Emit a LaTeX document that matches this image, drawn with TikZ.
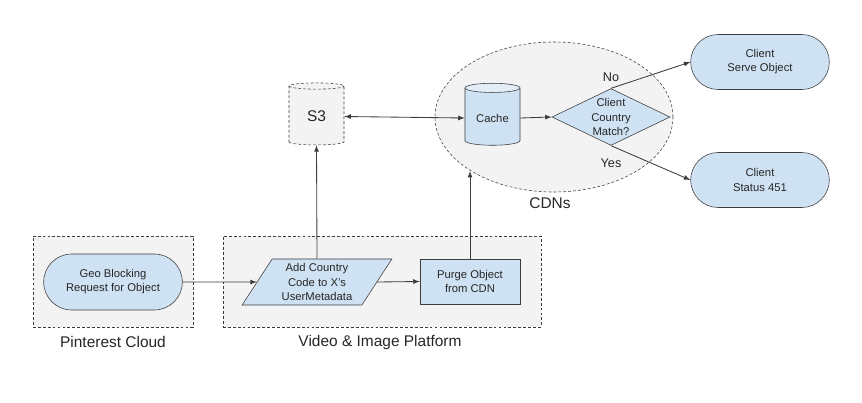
\documentclass[tikz,border=0pt]{standalone}
\usepackage{fontspec}
\setmainfont{Liberation Sans}
\usetikzlibrary{shapes.geometric,shapes.misc,arrows,calc}
\definecolor{BoxBlue}{HTML}{CFE2F3}
\definecolor{CapBlue}{HTML}{E2EDF8}
\definecolor{ZoneGray}{HTML}{F3F3F3}
\definecolor{LineGray}{HTML}{3C3C3C}
\tikzset{
    nodefont/.style = {font=\fontsize{8}{10}\selectfont, text=black!85},
    block/.style = {draw=LineGray, fill=BoxBlue, rectangle, nodefont, align=center,
        minimum width=2.5cm, minimum height=1.125cm},
    terminal/.style = {draw=LineGray, fill=BoxBlue, rounded rectangle, nodefont, align=center,
        minimum width=3.6cm, minimum height=1.4cm},
    data/.style = {draw=LineGray, fill=BoxBlue, trapezium, trapezium left angle=57,
        trapezium right angle=123, trapezium stretches=true, nodefont, align=center,
        minimum width=3.75cm, minimum height=1.15cm, inner sep=0pt},
    decision/.style = {draw=LineGray, fill=BoxBlue, diamond, aspect=1.93, nodefont,
        align=center, inner sep=0pt, minimum width=2.95cm},
    store/.style = {cylinder, shape border rotate=90, aspect=0.22, nodefont,
        minimum width=1.375cm, minimum height=1.55cm},
    zone/.style = {draw=LineGray, fill=ZoneGray, dash pattern=on 2pt off 1.5pt, rectangle},
    zonelabel/.style = {font=\fontsize{11}{13}\selectfont, text=black!85},
    choice/.style = {font=\fontsize{9}{11}\selectfont, text=black!85},
    arrow/.style = {draw=LineGray, line width=0.6pt, -latex},
}
\begin{document}
\begin{tikzpicture}[x=0.025cm, y=-0.025cm]
    \useasboundingbox (0,0) rectangle (862,402);
    % grouping areas
    \node[zone, minimum width=4cm, minimum height=2.275cm] (cloud) at (113,281.5) {};
    \node[zone, minimum width=7.95cm, minimum height=2.275cm] (platform) at (382,281.5) {};
    \node[zone, ellipse, minimum width=5.95cm, minimum height=3.75cm] (cdn) at (554,117) {};
    \node[zonelabel] (cloudlabel) at (113,342) {Pinterest Cloud};
    \node[zonelabel] (platformlabel) at (380,342) {Video \& Image Platform};
    \node[zonelabel] (cdnlabel) at (550,203) {CDNs};

    \node[terminal, minimum width=3.7cm] (geo) at (113,282) {Geo Blocking\\Request for Object};
    \node[data] (addcode) at (317,282) {Add Country\\Code to X's\\UserMetadata};
    \node[block] (purge) at (470,281.5) {Purge Object\\from CDN};
    \node[store, draw=LineGray, fill=ZoneGray, dash pattern=on 2pt off 1.5pt,
        font=\fontsize{11}{13}\selectfont] (s3) at (316.5,116.5) {S3};
    \node[store, draw=LineGray, cylinder uses custom fill, cylinder body fill=BoxBlue,
        cylinder end fill=CapBlue] (cache) at (492.5,118) {Cache};
    \node[decision] (match) at (611,117) {Client\\Country\\Match?};
    \node[terminal, minimum width=3.7cm, minimum height=1.375cm] (serve) at (760,62) {Client\\Serve Object};
    \node[terminal, minimum width=3.7cm, minimum height=1.375cm] (status) at (760,180) {Client\\Status 451};

    \draw[arrow] (geo.east) -- (addcode.west);
    \draw[arrow] (addcode.east) -- (purge.west);
    \draw[arrow] (addcode.north) -- (s3.south);
    \draw[arrow] (purge.north) -- (purge.north |- cdn.213);
    \draw[arrow, latex-latex] (s3.east) -- (cache.west);
    \draw[arrow] (cache.east) -- (match.west);
    \draw[arrow] (match.north) -- node[choice, pos=0, above=1pt] {No} (serve.west);
    \draw[arrow] (match.south) -- node[choice, pos=0, below=6pt] {Yes} (status.west);
\end{tikzpicture}
\end{document}
